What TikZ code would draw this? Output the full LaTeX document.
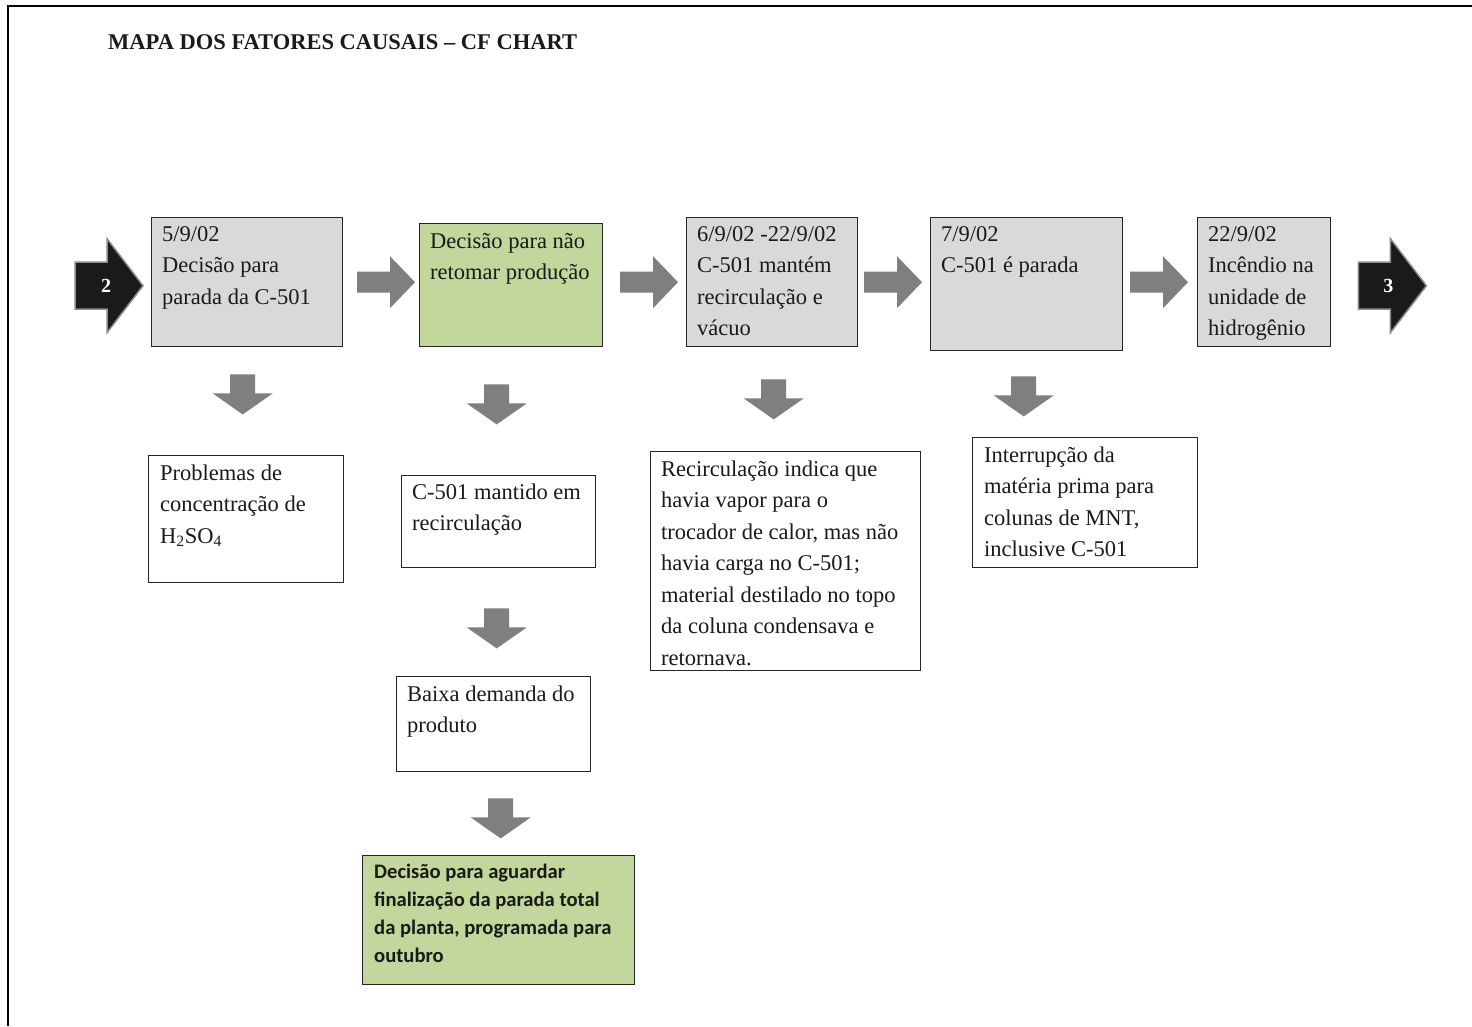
\documentclass[tikz,border=0pt]{standalone}
\usepackage{fontspec}
\setmainfont{Liberation Serif}
\newfontfamily\calibfont{Carlito}
\usetikzlibrary{calc}

\definecolor{boxgray}{HTML}{D9D9D9}
\definecolor{boxgreen}{HTML}{C3D69B}
\definecolor{arrowgray}{HTML}{7F7F7F}
\definecolor{inkdark}{HTML}{1A1A1A}

% stacked lines of text, baseline on the first line
\newcommand\boxlines[1]{\begin{tabular}[t]{@{}l@{}}#1\end{tabular}}

\begin{document}
\begin{tikzpicture}[x=1pt,y=-1pt,
  frame/.style={line width=1.6pt},
  cfbox/.style={draw=black!85, line width=1.4pt, anchor=north west, inner sep=0pt},
  graybox/.style={cfbox, fill=boxgray},
  greenbox/.style={cfbox, fill=boxgreen},
  whitebox/.style={cfbox, fill=white},
  txt/.style={anchor=base west, inner sep=0pt, text=inkdark,
    font=\fontsize{22.5}{31.5}\selectfont},
  sanstxt/.style={anchor=base west, inner sep=0pt, text=inkdark,
    font=\calibfont\bfseries\fontsize{20.6}{28.3}\selectfont},
  numtxt/.style={inner sep=0pt, text=white, font=\bfseries\fontsize{20}{24}\selectfont},
  rfat/.pic={\fill[arrowgray] (-58,-10.5) -- (-25,-10.5) -- (-25,-26) -- (0,0)
      -- (-25,26) -- (-25,10.5) -- (-58,10.5) -- cycle;},
  dfat/.pic={\fill[arrowgray] (-12.5,-40) -- (12.5,-40) -- (12.5,-21) -- (30,-21)
      -- (0,0) -- (-30,-21) -- (-12.5,-21) -- cycle;},
  blackfat/.pic={\filldraw[fill=inkdark, draw=black!45, line width=1.5pt, line join=miter]
      (-68,-23.5) -- (-36,-23.5) -- (-36,-47) -- (0,0)
      -- (-36,47) -- (-36,23.5) -- (-68,23.5) -- cycle;}
]
\useasboundingbox (0,0) rectangle (1472,1026);
\fill[white] (0,0) rectangle (1472,1026);

% page frame
\draw[frame] (8,1026) -- (8,6) -- (1472,6);

% title
\node[anchor=base west, inner sep=0pt, text=inkdark,
  font=\bfseries\fontsize{22.5}{26}\selectfont] (title) at (108,49)
  {MAPA DOS FATORES CAUSAIS – CF CHART};

% events of the time line
\node[graybox, minimum width=191pt, minimum height=129pt] (b1) at (151,217) {};
\node[greenbox, minimum width=183pt, minimum height=123pt] (b2) at (419,223) {};
\node[graybox, minimum width=171pt, minimum height=129pt] (b3) at (686,217) {};
\node[graybox, minimum width=192pt, minimum height=133pt] (b4) at (930,217) {};
\node[graybox, minimum width=133pt, minimum height=129pt] (b5) at (1197,217) {};

\node[txt] (t1) at ($(b1.north west)+(11,24)$) {\boxlines{5/9/02\\Decisão para\\parada da C-501}};
\node[txt] (t2) at ($(b2.north west)+(11,25)$) {\boxlines{Decisão para não\\retomar produção}};
\node[txt] (t3) at ($(b3.north west)+(11,24)$) {\boxlines{6/9/02 -22/9/02\\C-501 mantém\\recirculação e\\vácuo}};
\node[txt] (t4) at ($(b4.north west)+(11,24)$) {\boxlines{7/9/02\\C-501 é parada}};
\node[txt] (t5) at ($(b5.north west)+(11,24)$) {\boxlines{22/9/02\\Incêndio na\\unidade de\\hidrogênio}};

% causal factors
\node[whitebox, minimum width=195pt, minimum height=127pt] (l1) at (148,455) {};
\node[whitebox, minimum width=194pt, minimum height=92pt] (l2) at (401,475) {};
\node[whitebox, minimum width=194pt, minimum height=95pt] (l3) at (396,676) {};
\node[greenbox, minimum width=272pt, minimum height=129pt] (l4) at (362,855) {};
\node[whitebox, minimum width=270pt, minimum height=219pt] (l5) at (650,451) {};
\node[whitebox, minimum width=225pt, minimum height=130pt] (l6) at (972,437) {};

\node[txt] (s1) at ($(l1.north west)+(12,25)$) {\boxlines{Problemas de\\concentração de\\H\textsubscript{2}SO\textsubscript{4}}};
\node[txt] (s2) at ($(l2.north west)+(11,24)$) {\boxlines{C-501 mantido em\\recirculação}};
\node[txt] (s3) at ($(l3.north west)+(11,25)$) {\boxlines{Baixa demanda do\\produto}};
\node[sanstxt] (s4) at ($(l4.north west)+(12,23)$) {\boxlines{Decisão para aguardar\\finalização da parada total\\da planta, programada para\\outubro}};
\node[txt] (s5) at ($(l5.north west)+(11,25)$) {\boxlines{Recirculação indica que\\havia vapor para o\\trocador de calor, mas não\\havia carga no C-501;\\material destilado no topo\\da coluna condensava e\\retornava.}};
\node[txt] (s6) at ($(l6.north west)+(12,25)$) {\boxlines{Interrupção da\\matéria prima para\\colunas de MNT,\\inclusive C-501}};

% connectors along the time line
\pic at ($(b2.west |- b1.east)+(-4,0)$) {rfat};
\pic at ($(b3.west |- b1.east)+(-8,0)$) {rfat};
\pic at ($(b4.west |- b1.east)+(-8,0)$) {rfat};
\pic at ($(b5.west |- b1.east)+(-9,0)$) {rfat};

% links to the previous and next chart
\pic at ($(b1.west)+(-8,3.5)$) {blackfat};
\pic at ($(b5.east)+(95,3.5)$) {blackfat};
\node[numtxt] (n2) at ($(b1.west)+(-45,4)$) {2};
\node[numtxt] (n3) at ($(b5.east)+(57,4)$) {3};

% connectors down to the causal factors
\pic at ($(b1.south)+(-4.5,67)$) {dfat};
\pic at ($(b2.south)+(-14.5,77)$) {dfat};
\pic at ($(b3.south)+(1.5,72)$) {dfat};
\pic at ($(b4.south)+(-3,65)$) {dfat};
\pic at ($(l2.south)+(-2,80)$) {dfat};
\pic at ($(l3.south)+(7,66)$) {dfat};
\end{tikzpicture}
\end{document}
